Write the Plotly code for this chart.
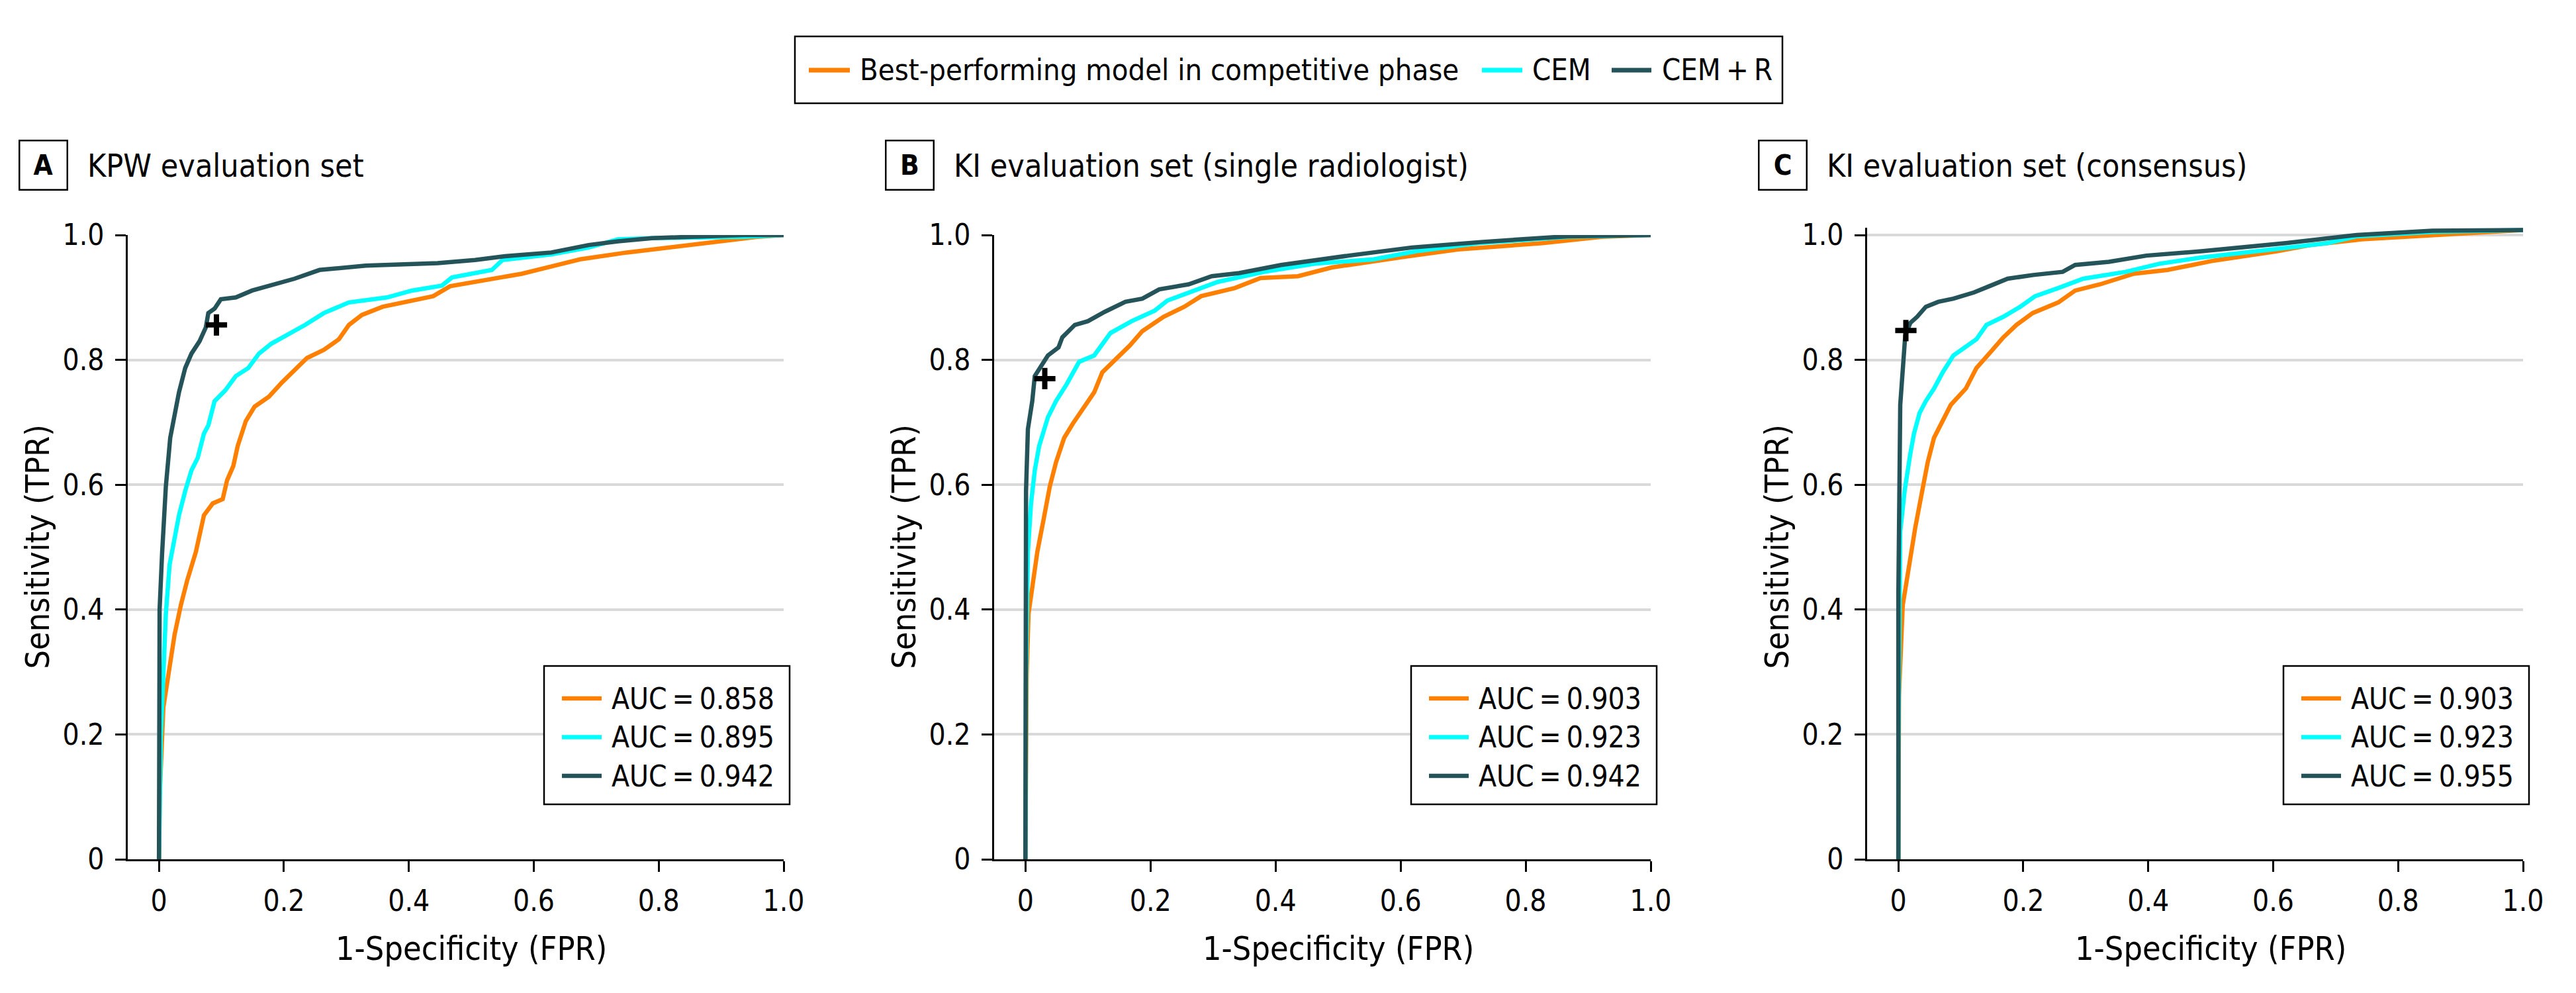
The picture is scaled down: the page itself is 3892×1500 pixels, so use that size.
import plotly.graph_objects as go

W, H = 3892, 1500
FONT = "DejaVu Sans Condensed, DejaVu Sans, sans-serif"

# ---------------- data ----------------
series_names = ["Best-performing model in competitive phase", "CEM", "CEM\u2009+\u2009R"]
series_colors = ["#FF7F00", "#00FFFF", "#245459"]

panel_letters = ["A", "B", "C"]
panel_titles = ["KPW evaluation set",
                "KI evaluation set (single radiologist)",
                "KI evaluation set (consensus)"]

auc_A = [0.858, 0.895, 0.942]
auc_B = [0.903, 0.923, 0.942]
auc_C = [0.903, 0.923, 0.955]

# Panel A
A_best_fpr = [0, 0.001, 0.007, 0.015, 0.025, 0.035, 0.045, 0.059, 0.072, 0.086, 0.102, 0.109, 0.119, 0.126,
              0.139, 0.153, 0.176, 0.197, 0.217, 0.237, 0.264, 0.288, 0.304, 0.325, 0.358, 0.392, 0.439, 0.466,
              0.527, 0.581, 0.634, 0.674, 0.749, 0.843, 0.904, 0.958, 1.0]
A_best_tpr = [0, 0.098, 0.243, 0.295, 0.36, 0.407, 0.446, 0.492, 0.551, 0.57, 0.577, 0.607, 0.63, 0.662,
              0.702, 0.725, 0.741, 0.764, 0.784, 0.803, 0.816, 0.833, 0.856, 0.872, 0.885, 0.892, 0.902, 0.918,
              0.929, 0.938, 0.951, 0.961, 0.972, 0.984, 0.991, 0.997, 1.0]
A_cem_fpr = [0, 0.003, 0.007, 0.011, 0.017, 0.025, 0.032, 0.042, 0.052, 0.062, 0.072, 0.079, 0.089, 0.106,
             0.123, 0.143, 0.16, 0.18, 0.21, 0.234, 0.264, 0.304, 0.365, 0.405, 0.453, 0.469, 0.533, 0.55,
             0.628, 0.688, 0.735, 0.789, 0.937, 1.0]
A_cem_tpr = [0, 0.197, 0.295, 0.393, 0.472, 0.518, 0.551, 0.59, 0.623, 0.643, 0.682, 0.695, 0.734, 0.751,
             0.774, 0.787, 0.81, 0.826, 0.843, 0.856, 0.875, 0.892, 0.9, 0.911, 0.919, 0.932, 0.944, 0.96,
             0.969, 0.98, 0.993, 0.995, 0.997, 1.0]
A_cemr_fpr = [0, 0.001, 0.005, 0.011, 0.018, 0.025, 0.032, 0.042, 0.052, 0.065, 0.075, 0.079, 0.089, 0.099,
              0.123, 0.149, 0.176, 0.217, 0.257, 0.331, 0.446, 0.506, 0.554, 0.628, 0.688, 0.735, 0.789, 0.937, 1.0]
A_cemr_tpr = [0, 0.4, 0.49, 0.597, 0.675, 0.715, 0.748, 0.787, 0.81, 0.83, 0.852, 0.875, 0.882, 0.897,
              0.9, 0.911, 0.919, 0.93, 0.944, 0.951, 0.955, 0.96, 0.966, 0.972, 0.984, 0.99, 0.995, 1.0, 1.0]

# Panel B
B_best_fpr = [0, 0.002, 0.005, 0.012, 0.019, 0.029, 0.039, 0.049, 0.062, 0.076, 0.089, 0.11, 0.123, 0.147,
              0.167, 0.187, 0.221, 0.254, 0.281, 0.335, 0.376, 0.436, 0.49, 0.605, 0.692, 0.827, 0.921, 1.0]
B_best_tpr = [0, 0.295, 0.393, 0.446, 0.492, 0.544, 0.597, 0.636, 0.675, 0.698, 0.718, 0.748, 0.78, 0.803,
              0.823, 0.846, 0.869, 0.885, 0.902, 0.915, 0.931, 0.934, 0.948, 0.965, 0.977, 0.987, 0.997, 1.0]
B_cem_fpr = [0, 0.001, 0.004, 0.009, 0.015, 0.022, 0.036, 0.049, 0.066, 0.086, 0.11, 0.136, 0.17, 0.207,
             0.227, 0.268, 0.308, 0.382, 0.463, 0.557, 0.625, 0.725, 0.867, 1.0]
B_cem_tpr = [0, 0.295, 0.492, 0.57, 0.623, 0.662, 0.708, 0.734, 0.761, 0.797, 0.807, 0.843, 0.862, 0.879,
             0.895, 0.911, 0.925, 0.941, 0.954, 0.961, 0.974, 0.987, 0.997, 1.0]
B_cemr_fpr = [0, 0.0, 0.001, 0.004, 0.011, 0.015, 0.025, 0.036, 0.053, 0.059, 0.079, 0.1, 0.127, 0.16,
              0.187, 0.214, 0.261, 0.298, 0.342, 0.409, 0.517, 0.618, 0.732, 0.867, 1.0]
B_cemr_tpr = [0, 0.36, 0.59, 0.689, 0.734, 0.774, 0.79, 0.807, 0.82, 0.836, 0.856, 0.862, 0.877, 0.893,
              0.898, 0.913, 0.921, 0.934, 0.939, 0.952, 0.967, 0.98, 0.989, 0.998, 1.0]

# Panel C
C_best_fpr = [0, 0.001, 0.007, 0.017, 0.027, 0.037, 0.047, 0.057, 0.071, 0.084, 0.108, 0.125, 0.148, 0.168,
              0.189, 0.215, 0.256, 0.283, 0.323, 0.377, 0.431, 0.505, 0.606, 0.66, 0.741, 0.869, 1.0]
C_best_tpr = [0, 0.262, 0.407, 0.472, 0.531, 0.584, 0.636, 0.675, 0.702, 0.728, 0.754, 0.787, 0.813, 0.836,
              0.856, 0.875, 0.892, 0.911, 0.921, 0.938, 0.944, 0.959, 0.974, 0.984, 0.993, 1.0, 1.008]
C_cem_fpr = [0, 0.0, 0.003, 0.01, 0.019, 0.025, 0.034, 0.044, 0.057, 0.071, 0.088, 0.108, 0.125, 0.141,
             0.168, 0.195, 0.219, 0.256, 0.296, 0.364, 0.418, 0.485, 0.593, 0.687, 0.734, 0.855, 1.0]
C_cem_tpr = [0, 0.164, 0.525, 0.59, 0.649, 0.682, 0.715, 0.734, 0.754, 0.78, 0.807, 0.82, 0.833, 0.856,
             0.869, 0.885, 0.902, 0.915, 0.93, 0.941, 0.954, 0.964, 0.976, 0.987, 0.998, 1.005, 1.008]
C_cemr_fpr = [0, 0.0, 0.003, 0.008, 0.011, 0.019, 0.03, 0.044, 0.064, 0.088, 0.121, 0.148, 0.175, 0.216,
              0.263, 0.283, 0.337, 0.397, 0.485, 0.62, 0.734, 0.855, 1.0]
C_cemr_tpr = [0, 0.426, 0.728, 0.807, 0.839, 0.859, 0.869, 0.885, 0.893, 0.898, 0.908, 0.919, 0.93, 0.936,
              0.941, 0.952, 0.957, 0.967, 0.974, 0.987, 1.0, 1.007, 1.008]

# Reader operating points ("+")
reader_fpr = [0.092, 0.031, 0.012]
reader_tpr = [0.856, 0.770, 0.847]

tick_vals = [0, 0.2, 0.4, 0.6, 0.8, 1.0]
tick_text = ["0", "0.2", "0.4", "0.6", "0.8", "1.0"]
x_title = "1-Specificity (FPR)"
y_title = "Sensitivity (TPR)"

panels = [
    dict(curves=[(A_best_fpr, A_best_tpr), (A_cem_fpr, A_cem_tpr), (A_cemr_fpr, A_cemr_tpr)], auc=auc_A),
    dict(curves=[(B_best_fpr, B_best_tpr), (B_cem_fpr, B_cem_tpr), (B_cemr_fpr, B_cemr_tpr)], auc=auc_B),
    dict(curves=[(C_best_fpr, C_best_tpr), (C_cem_fpr, C_cem_tpr), (C_cemr_fpr, C_cemr_tpr)], auc=auc_C),
]

# ---------------- layout helpers (pixel -> paper) ----------------
def fx(p):
    return p / W


def fy(p):
    return 1 - p / H


x_dom_px = [(193, 1184), (1502, 2494), (2821, 3812)]
y_bot_px, y_top_px = 1298, 355
y_max = [1.0, 1.0, 1.012]
x_range = [-0.05, 1.0]
TICKFONT = dict(family=FONT, size=44, color="black")

fig = go.Figure()
annotations = []
shapes = []

for i, p in enumerate(panels):
    ax = "" if i == 0 else str(i + 1)
    for k, (fpr, tpr) in enumerate(p["curves"]):
        fig.add_trace(go.Scatter(
            x=fpr, y=tpr, mode="lines", name=series_names[k],
            line=dict(color=series_colors[k], width=6.5),
            xaxis="x" + ax, yaxis="y" + ax, showlegend=False))
    fig.add_trace(go.Scatter(
        x=[reader_fpr[i]], y=[reader_tpr[i]], mode="markers",
        marker=dict(symbol="cross-thin", size=23, line=dict(width=8, color="black"), color="black"),
        xaxis="x" + ax, yaxis="y" + ax, showlegend=False, cliponaxis=False))

    x0, x1 = x_dom_px[i]
    ytop = y_top_px - (y_max[i] - 1.0) * (y_bot_px - y_top_px)
    fig.update_layout(**{
        "xaxis" + ax: dict(
            domain=[fx(x0), fx(x1)], range=x_range, anchor="y" + ax, automargin=False,
            tickvals=tick_vals, ticktext=tick_text, ticks="outside", ticklen=16, tickwidth=2.5,
            tickcolor="black", showline=True, linecolor="black", linewidth=3,
            ticklabelstandoff=6, showgrid=False, zeroline=False, tickfont=TICKFONT),
        "yaxis" + ax: dict(
            domain=[fy(y_bot_px), fy(ytop)], range=[0, y_max[i]], anchor="x" + ax, automargin=False,
            tickvals=tick_vals, ticktext=tick_text, ticks="outside", ticklen=16, tickwidth=2.5,
            tickcolor="black", showline=True, linecolor="black", linewidth=2.5,
            ticklabelstandoff=8, showgrid=True, gridcolor="#D9D9D9", gridwidth=4, zeroline=False,
            tickfont=TICKFONT),
    })

    # x-axis title (centered on 0..1)
    x_zero = x0 + (0 - x_range[0]) / (x_range[1] - x_range[0]) * (x1 - x0)
    annotations.append(dict(x=fx((x_zero + x1) / 2), y=fy(1433), xref="paper", yref="paper",
                            text=x_title, showarrow=False, xanchor="center", yanchor="middle",
                            font=dict(family=FONT, size=50, color="black")))
    # y-axis title
    annotations.append(dict(x=fx(x0 - 137), y=fy((y_bot_px + y_top_px) / 2), xref="paper", yref="paper",
                            text=y_title, showarrow=False, textangle=-90, xanchor="center", yanchor="middle",
                            font=dict(family=FONT, size=50, color="black")))

    # panel letter box + title
    box_left = x0 - 165
    annotations.append(dict(x=fx(box_left), y=fy(250), xref="paper", yref="paper",
                            text="<b>%s</b>" % panel_letters[i], showarrow=False,
                            xanchor="left", yanchor="middle", width=70, height=72, align="center",
                            valign="middle", bordercolor="black", borderwidth=2.5, borderpad=0,
                            font=dict(family=FONT, size=42, color="black")))
    annotations.append(dict(x=fx(box_left + 102), y=fy(250), xref="paper", yref="paper",
                            text=panel_titles[i], showarrow=False, xanchor="left", yanchor="middle",
                            font=dict(family=FONT, size=48, color="black")))

    # AUC legend box
    lg_right = x1 + 9
    lg_left = lg_right - 371
    shapes.append(dict(type="rect", xref="paper", yref="paper",
                       x0=fx(lg_left), x1=fx(lg_right), y0=fy(1215), y1=fy(1006),
                       line=dict(color="black", width=2.5), fillcolor="white", layer="above"))
    for k in range(3):
        ry = 1055 + k * 58.5
        shapes.append(dict(type="line", xref="paper", yref="paper",
                           x0=fx(lg_left + 27), x1=fx(lg_left + 87), y0=fy(ry), y1=fy(ry),
                           line=dict(color=series_colors[k], width=6.5), layer="above"))
        annotations.append(dict(x=fx(lg_left + 100), y=fy(ry), xref="paper", yref="paper",
                                text="AUC\u2009=\u2009%.3f" % p["auc"][k], showarrow=False,
                                xanchor="left", yanchor="middle",
                                font=dict(family=FONT, size=44, color="black")))

# ---------------- top legend ----------------
shapes.append(dict(type="rect", xref="paper", yref="paper",
                   x0=fx(1201), x1=fx(2693), y0=fy(156), y1=fy(55),
                   line=dict(color="black", width=2.5), fillcolor="white", layer="above"))
top_items = [(1222, 1284, 1297), (2239, 2300, 2313), (2435, 2495, 2509)]
for k, (a, b, t) in enumerate(top_items):
    shapes.append(dict(type="line", xref="paper", yref="paper",
                       x0=fx(a), x1=fx(b), y0=fy(106), y1=fy(106),
                       line=dict(color=series_colors[k], width=7), layer="above"))
    annotations.append(dict(x=fx(t), y=fy(106), xref="paper", yref="paper",
                            text=series_names[k], showarrow=False, xanchor="left", yanchor="middle",
                            font=dict(family=FONT, size=45, color="black")))

fig.update_layout(
    width=W, height=H, margin=dict(l=0, r=0, t=0, b=0, pad=0),
    paper_bgcolor="white", plot_bgcolor="white",
    font=dict(family=FONT, size=44, color="black"),
    showlegend=False, annotations=annotations, shapes=shapes,
)

fig.write_html("out.html", config={"displayModeBar": False},
               post_script="document.body.style.margin='0';")
